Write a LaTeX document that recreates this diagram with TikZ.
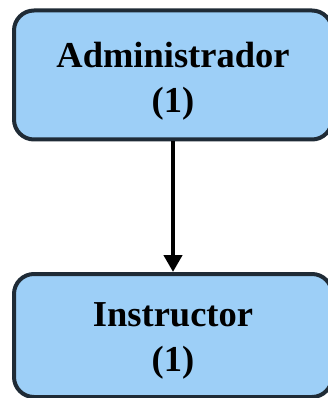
\documentclass[tikz,border=0pt]{standalone}
\usepackage{fontspec}
\setmainfont{Liberation Serif}
\usetikzlibrary{arrows.meta}
\definecolor{boxfill}{HTML}{9DCFF7}
\definecolor{boxline}{HTML}{1F2B36}
\tikzset{
  rolebox/.style={draw=boxline, fill=boxfill, line width=4pt, rounded corners=20pt,
    minimum width=318pt, minimum height=129pt, inner sep=0pt},
  roletext/.style={align=center, inner sep=0pt,
    font=\fontsize{36.5}{45}\selectfont\bfseries},
  link/.style={draw=black, line width=4.5pt, -{Triangle[length=17pt,width=18pt]}}
}
\begin{document}
\begin{tikzpicture}[x=1pt,y=-1pt]
\useasboundingbox (0,0) rectangle (327,398);
\node[rolebox] (admin) at (173,75) {};
\node[roletext] (admintext) at (173,81) {Administrador\\(1)};
\node[rolebox, minimum height=123pt] (instr) at (173,335.5) {};
\node[roletext] (instrtext) at (173,341) {Instructor\\(1)};
\draw[link] (admin.south) -- (instr.north);
\end{tikzpicture}
\end{document}
